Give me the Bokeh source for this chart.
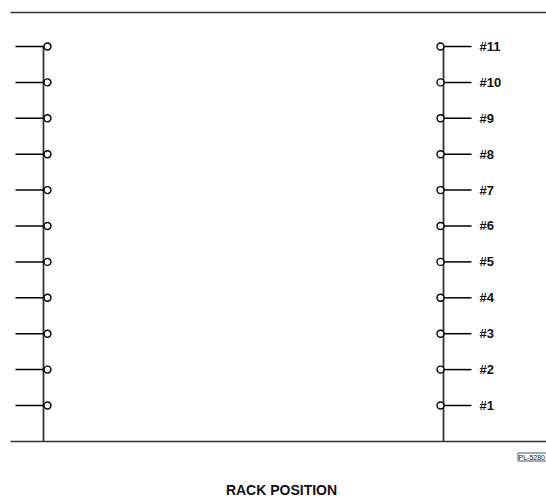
from bokeh.plotting import figure
from bokeh.models import Range1d
from bokeh.core.properties import value
from bokeh.embed import file_html
from bokeh.resources import INLINE

# ---- data ----
positions = [1, 2, 3, 4, 5, 6, 7, 8, 9, 10, 11]
labels = ["#1", "#2", "#3", "#4", "#5", "#6", "#7", "#8", "#9", "#10", "#11"]
title_text = ["RACK POSITION"]
figure_code = ["PL-5280"]

FONT = value("Liberation Sans")

W, H = 546, 499
p = figure(width=W, height=H,
           x_range=Range1d(0, W), y_range=Range1d(-1.6183, 12.281),
           output_backend="svg", toolbar_location=None, min_border=0,
           x_axis_location=None, y_axis_location=None)
p.grid.visible = False
p.outline_line_color = None
p.background_fill_color = "white"

top = max(positions) + 0.947
base = 0
n = len(positions)

p.segment(x0=[10, 10], x1=[W, W], y0=[top, base], y1=[top, base],
          line_color="#333333", line_width=1.5)
p.segment(x0=[43, 443], x1=[43, 443], y0=[base, base], y1=[max(positions)] * 2,
          line_color="#333333", line_width=1.8)

p.segment(x0=[15] * n, x1=[44] * n, y0=positions, y1=positions,
          line_color="black", line_width=1.5)
p.segment(x0=[443] * n, x1=[471] * n, y0=positions, y1=positions,
          line_color="black", line_width=1.5)

p.scatter(x=[47] * n, y=positions, marker="circle", size=7,
          fill_color="white", line_color="black", line_width=1.4)
p.scatter(x=[440] * n, y=positions, marker="circle", size=7,
          fill_color="white", line_color="black", line_width=1.4)

p.text(x=[479] * n, y=positions, text=labels, text_font=FONT,
       text_font_style="bold", text_font_size="13px",
       text_baseline="middle", text_align="left", text_color="#111111")

p.rect(x=[532], y=[-0.435], width=29, height=8, width_units="screen",
       height_units="screen", fill_color="white", line_color="#555555",
       line_width=1)
p.text(x=[518], y=[-0.435], text=figure_code, text_font=FONT,
       text_font_size="7px", text_baseline="middle", text_align="left",
       text_color="#222222")

p.text(x=[281], y=[-1.34], text=title_text, text_font=FONT,
       text_font_style="bold", text_font_size="14px",
       text_baseline="middle", text_align="center", text_color="#111111")

open("out.html", "w").write(file_html(p, INLINE))
